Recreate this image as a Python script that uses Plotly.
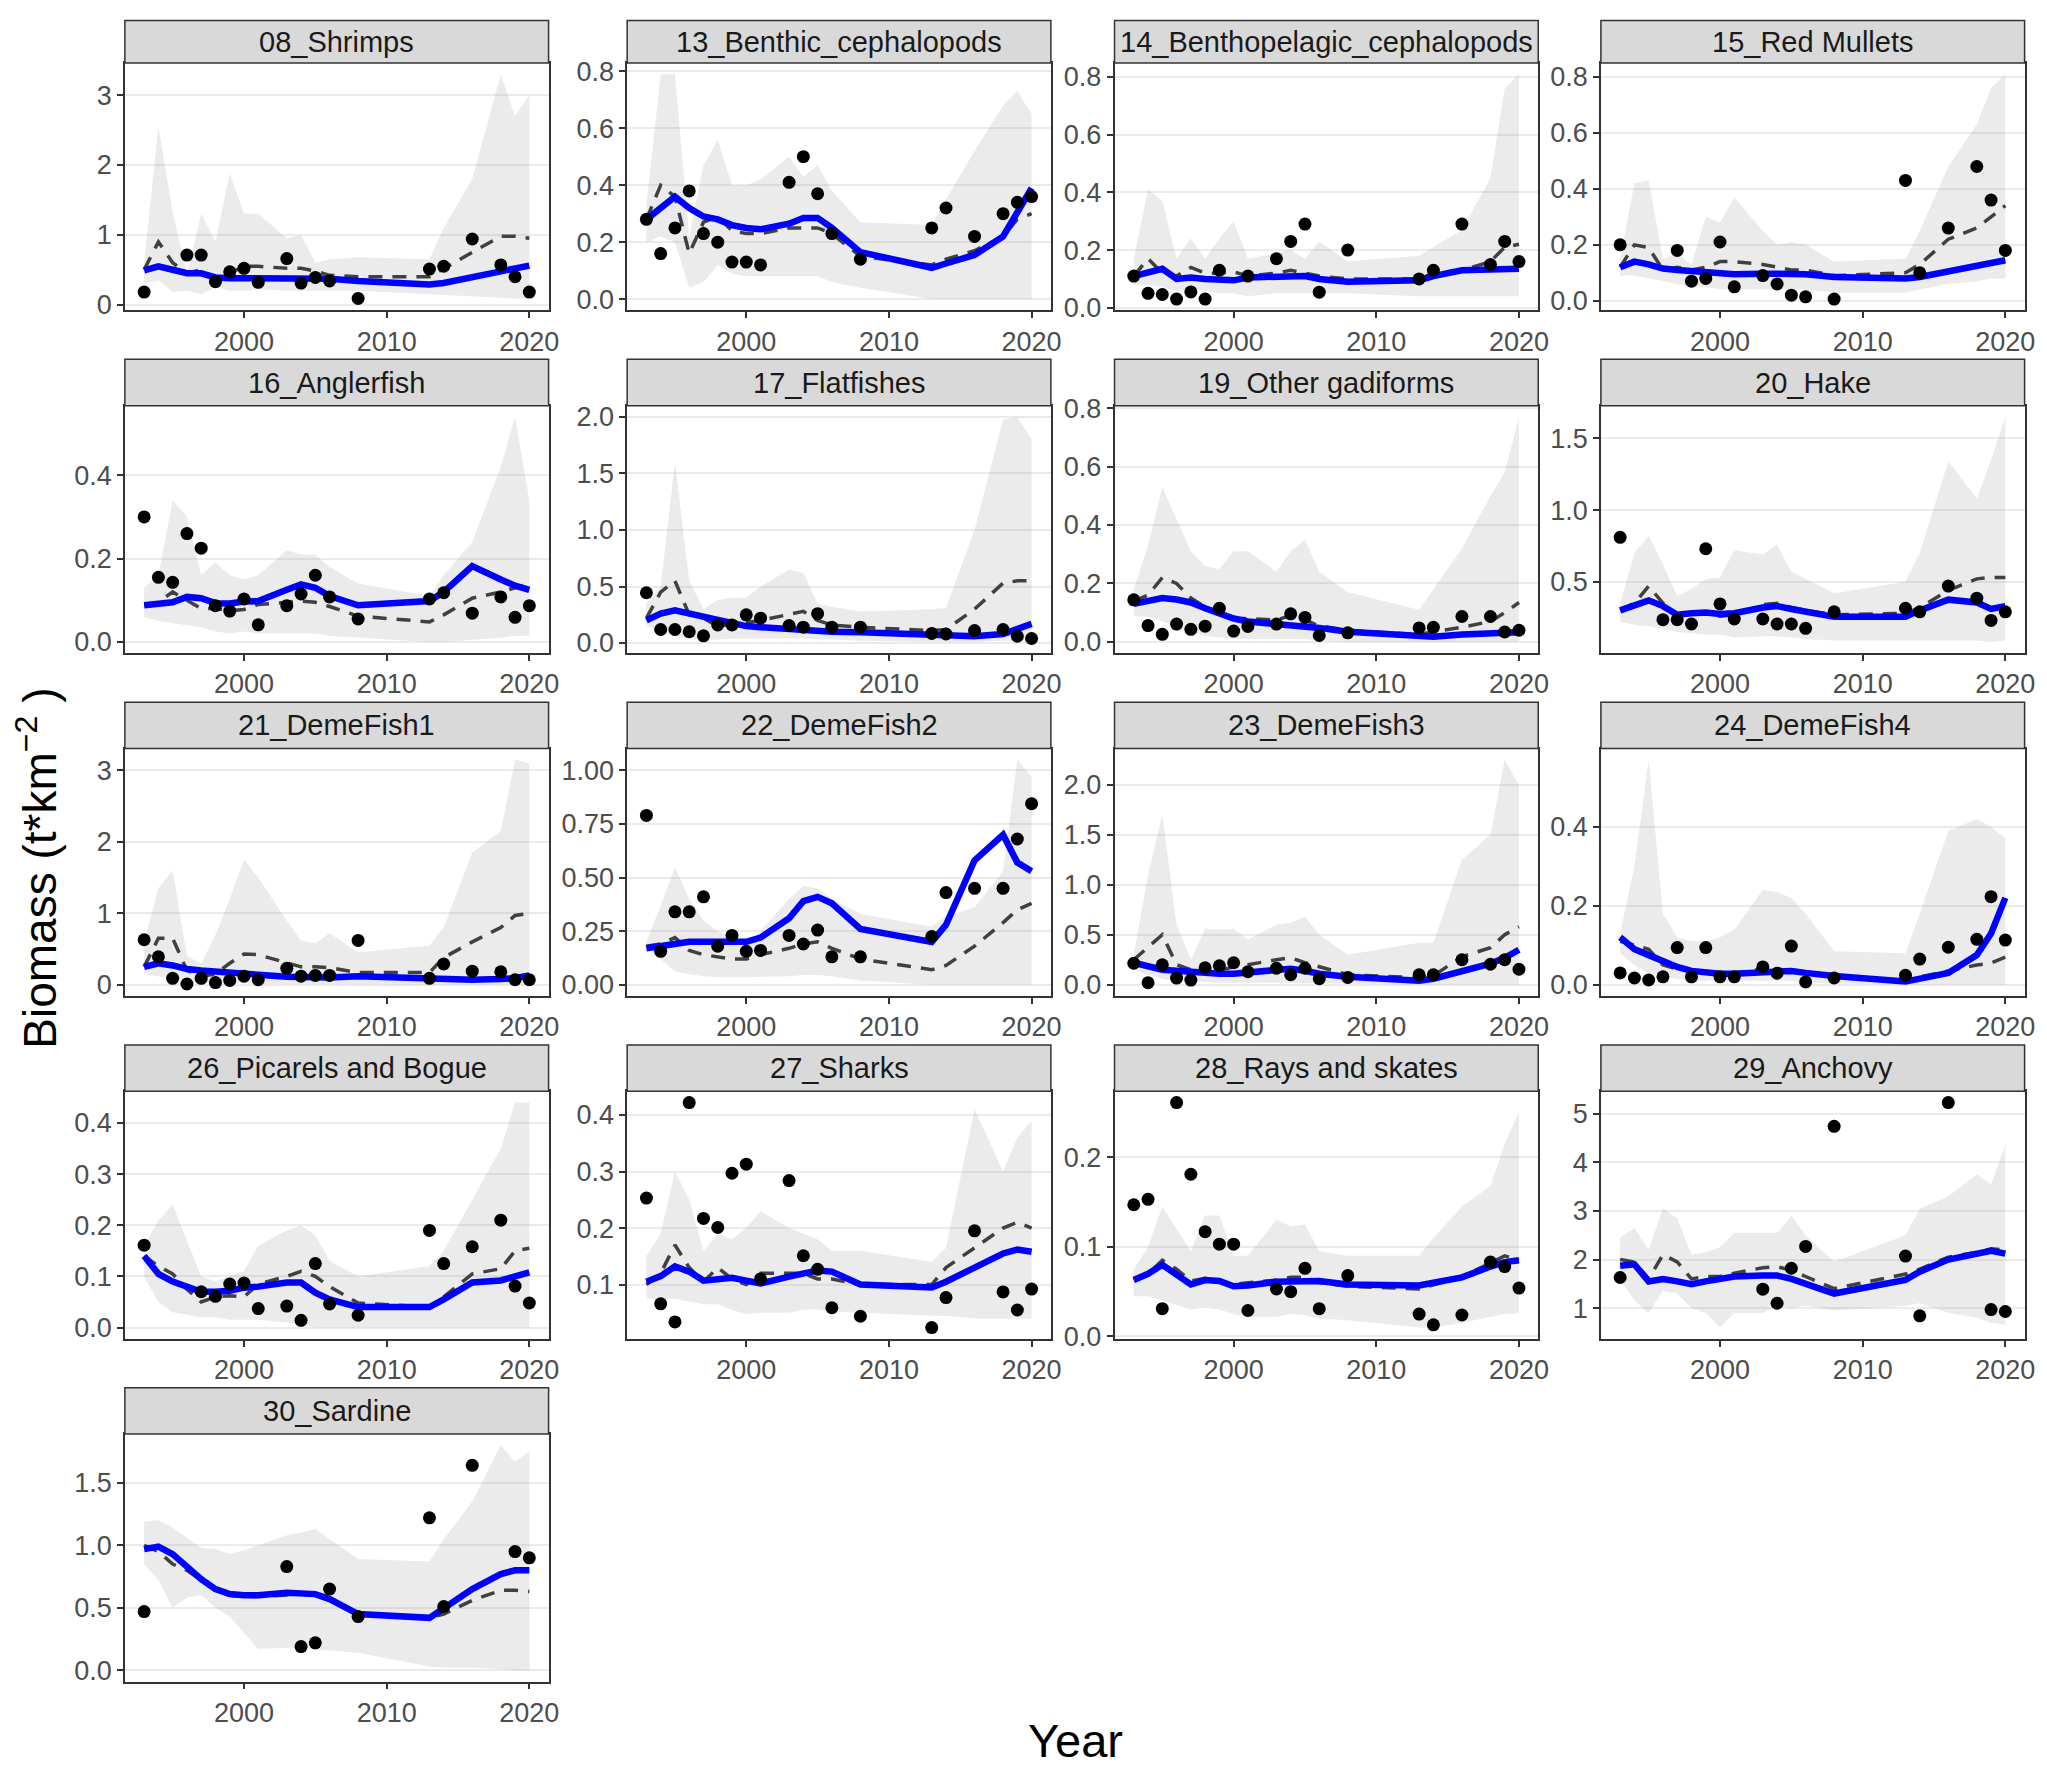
import plotly.graph_objects as go

# survey years (lines and ribbon are linear between these)
years = [1993, 1994, 1995, 1996, 1997, 1998, 1999, 2000, 2001, 2003,
         2004, 2005, 2006, 2008, 2013, 2014, 2016, 2018, 2019, 2020]

# 08_Shrimps
shrimps_obs = [0.18, None, None, 0.71, 0.71, 0.33, 0.47, 0.52, 0.32, 0.66, 0.31, 0.39, 0.34, 0.09, 0.51, 0.55, 0.94, 0.57, 0.40, 0.18]
shrimps_fit = [0.49, 0.55, 0.50, 0.45, 0.45, 0.39, 0.38, 0.38, 0.38, 0.38, 0.38, 0.38, 0.37, 0.34, 0.29, 0.31, 0.40, 0.49, 0.52, 0.56]
shrimps_dash = [0.50, 0.90, 0.60, 0.45, 0.50, 0.35, 0.45, 0.55, 0.55, 0.52, 0.52, 0.48, 0.42, 0.40, 0.40, 0.52, 0.75, 0.98, 0.98, 0.95]
shrimps_lo = [0.30, 0.35, 0.18, 0.20, 0.15, 0.25, 0.20, 0.20, 0.22, 0.20, 0.20, 0.20, 0.20, 0.20, 0.15, 0.15, 0.12, 0.10, 0.08, 0.10]
shrimps_hi = [0.60, 2.55, 1.32, 0.45, 1.30, 0.90, 1.88, 1.30, 1.30, 0.95, 1.00, 0.60, 0.65, 0.68, 0.65, 1.10, 1.80, 3.30, 2.70, 3.00]

# 13_Benthic_cephalopods
bceph_obs = [0.28, 0.16, 0.25, 0.38, 0.23, 0.20, 0.13, 0.13, 0.12, 0.41, 0.50, 0.37, 0.23, 0.14, 0.25, 0.32, 0.22, 0.30, 0.34, 0.36]
bceph_fit = [0.28, 0.32, 0.36, 0.32, 0.29, 0.28, 0.26, 0.25, 0.245, 0.265, 0.285, 0.285, 0.25, 0.165, 0.11, 0.125, 0.155, 0.22, 0.31, 0.39]
bceph_dash = [0.28, 0.40, 0.36, 0.16, 0.27, 0.29, 0.24, 0.23, 0.23, 0.25, 0.25, 0.25, 0.23, 0.15, 0.12, 0.14, 0.17, 0.22, 0.28, 0.30]
bceph_lo = [0.20, 0.22, 0.20, 0.04, 0.06, 0.12, 0.09, 0.08, 0.08, 0.08, 0.08, 0.08, 0.06, 0.04, 0.00, 0.00, 0.00, 0.00, 0.00, 0.00]
bceph_hi = [0.33, 0.79, 0.79, 0.22, 0.47, 0.56, 0.40, 0.40, 0.42, 0.50, 0.43, 0.47, 0.38, 0.27, 0.26, 0.35, 0.52, 0.68, 0.73, 0.65]

# 14_Benthopelagic_cephalopods
bpceph_obs = [0.11, 0.05, 0.046, 0.03, 0.055, 0.03, 0.13, None, 0.11, 0.17, 0.23, 0.29, 0.054, 0.20, 0.10, 0.13, 0.29, 0.15, 0.23, 0.16]
bpceph_fit = [0.11, 0.12, 0.135, 0.10, 0.105, 0.10, 0.095, 0.095, 0.105, 0.11, 0.11, 0.11, 0.10, 0.09, 0.095, 0.11, 0.13, 0.13, 0.13, 0.135]
bpceph_dash = [0.11, 0.17, 0.12, 0.11, 0.14, 0.12, 0.12, 0.125, 0.11, 0.12, 0.13, 0.12, 0.11, 0.10, 0.10, 0.12, 0.13, 0.16, 0.21, 0.22]
bpceph_lo = [0.08, 0.08, 0.07, 0.06, 0.06, 0.06, 0.05, 0.05, 0.04, 0.05, 0.05, 0.05, 0.05, 0.05, 0.04, 0.04, 0.04, 0.04, 0.04, 0.04]
bpceph_hi = [0.17, 0.41, 0.37, 0.17, 0.24, 0.17, 0.24, 0.30, 0.17, 0.19, 0.20, 0.17, 0.23, 0.16, 0.18, 0.21, 0.27, 0.45, 0.76, 0.81]

# 15_Red Mullets
mullet_obs = [0.20, None, None, None, 0.18, 0.07, 0.08, 0.21, 0.05, 0.09, 0.06, 0.02, 0.014, 0.006, 0.43, 0.10, 0.26, 0.48, 0.36, 0.18]
mullet_fit = [0.12, 0.14, 0.13, 0.115, 0.11, 0.105, 0.10, 0.095, 0.095, 0.097, 0.097, 0.095, 0.095, 0.085, 0.08, 0.085, 0.105, 0.125, 0.135, 0.145]
mullet_dash = [0.12, 0.20, 0.19, 0.11, 0.12, 0.11, 0.12, 0.14, 0.14, 0.13, 0.12, 0.11, 0.11, 0.09, 0.10, 0.13, 0.22, 0.26, 0.30, 0.34]
mullet_lo = [0.09, 0.09, 0.08, 0.07, 0.06, 0.05, 0.05, 0.04, 0.04, 0.04, 0.04, 0.04, 0.04, 0.03, 0.03, 0.04, 0.06, 0.07, 0.08, 0.08]
mullet_hi = [0.15, 0.42, 0.43, 0.15, 0.17, 0.13, 0.30, 0.28, 0.37, 0.25, 0.20, 0.21, 0.20, 0.14, 0.15, 0.25, 0.48, 0.63, 0.76, 0.81]

# 16_Anglerfish
angler_obs = [0.30, 0.155, 0.143, 0.26, 0.225, 0.087, 0.074, 0.103, 0.041, 0.087, 0.115, 0.16, 0.108, 0.055, 0.103, 0.118, 0.069, 0.108, 0.059, 0.087]
angler_fit = [0.088, 0.09, 0.095, 0.108, 0.105, 0.093, 0.092, 0.097, 0.098, 0.125, 0.138, 0.13, 0.11, 0.088, 0.098, 0.12, 0.182, 0.15, 0.135, 0.125]
angler_dash = [0.09, 0.095, 0.12, 0.10, 0.08, 0.08, 0.075, 0.078, 0.09, 0.095, 0.098, 0.095, 0.085, 0.062, 0.048, 0.065, 0.105, 0.12, 0.13, 0.14]
angler_lo = [0.06, 0.05, 0.045, 0.04, 0.035, 0.025, 0.02, 0.025, 0.02, 0.02, 0.02, 0.02, 0.015, 0.01, 0.0, 0.0, 0.005, 0.01, 0.015, 0.015]
angler_hi = [0.13, 0.16, 0.34, 0.30, 0.16, 0.19, 0.16, 0.15, 0.16, 0.22, 0.21, 0.21, 0.18, 0.14, 0.11, 0.16, 0.24, 0.42, 0.54, 0.34]

# 17_Flatfishes
flat_obs = [0.445, 0.12, 0.12, 0.10, 0.064, 0.16, 0.16, 0.25, 0.22, 0.155, 0.14, 0.26, 0.14, 0.14, 0.085, 0.08, 0.11, 0.12, 0.06, 0.04]
flat_fit = [0.20, 0.26, 0.29, 0.26, 0.23, 0.20, 0.17, 0.15, 0.14, 0.12, 0.11, 0.105, 0.10, 0.095, 0.07, 0.06, 0.06, 0.08, 0.12, 0.17]
flat_dash = [0.22, 0.45, 0.55, 0.25, 0.22, 0.15, 0.17, 0.18, 0.20, 0.25, 0.28, 0.20, 0.16, 0.14, 0.11, 0.12, 0.30, 0.53, 0.55, 0.55]
flat_lo = [0.15, 0.10, 0.06, 0.04, 0.03, 0.03, 0.04, 0.04, 0.04, 0.04, 0.04, 0.04, 0.03, 0.02, 0.01, 0.01, 0.01, 0.02, 0.02, 0.02]
flat_hi = [0.35, 0.50, 1.60, 0.55, 0.30, 0.38, 0.40, 0.40, 0.50, 0.65, 0.62, 0.35, 0.32, 0.28, 0.30, 0.31, 1.00, 1.98, 2.00, 1.80]

# 19_Other gadiforms
gadi_obs = [0.144, 0.056, 0.026, 0.061, 0.043, 0.054, 0.115, 0.037, 0.053, 0.061, 0.096, 0.084, 0.022, 0.031, 0.048, 0.05, 0.087, 0.087, 0.034, 0.04]
gadi_fit = [0.13, 0.14, 0.15, 0.145, 0.135, 0.115, 0.095, 0.08, 0.07, 0.062, 0.058, 0.055, 0.048, 0.035, 0.018, 0.018, 0.025, 0.03, 0.032, 0.033]
gadi_dash = [0.14, 0.16, 0.22, 0.20, 0.15, 0.12, 0.10, 0.08, 0.08, 0.075, 0.09, 0.075, 0.055, 0.04, 0.025, 0.035, 0.05, 0.07, 0.10, 0.135]
gadi_lo = [0.09, 0.085, 0.07, 0.05, 0.035, 0.02, 0.015, 0.01, 0.01, 0.01, 0.01, 0.01, 0.005, 0.0, 0.0, 0.0, 0.0, 0.0, 0.0, 0.0]
gadi_hi = [0.18, 0.33, 0.53, 0.42, 0.31, 0.26, 0.25, 0.31, 0.31, 0.24, 0.31, 0.35, 0.24, 0.17, 0.11, 0.18, 0.32, 0.50, 0.58, 0.77]

# 20_Hake
hake_obs = [0.81, None, None, 0.235, 0.235, 0.205, 0.73, 0.345, 0.24, 0.24, 0.205, 0.205, 0.175, 0.29, 0.315, 0.29, 0.47, 0.385, 0.23, 0.29]
hake_fit = [0.30, 0.33, 0.37, 0.33, 0.27, 0.28, 0.285, 0.275, 0.28, 0.32, 0.33, 0.31, 0.29, 0.255, 0.255, 0.30, 0.375, 0.355, 0.31, 0.33]
hake_dash = [0.30, 0.35, 0.47, 0.35, 0.27, 0.28, 0.28, 0.26, 0.27, 0.34, 0.35, 0.32, 0.30, 0.27, 0.28, 0.32, 0.44, 0.52, 0.53, 0.53]
hake_lo = [0.22, 0.20, 0.19, 0.17, 0.15, 0.14, 0.13, 0.13, 0.11, 0.12, 0.12, 0.11, 0.10, 0.09, 0.09, 0.09, 0.09, 0.09, 0.08, 0.09]
hake_hi = [0.35, 0.70, 0.82, 0.62, 0.40, 0.45, 0.52, 0.53, 0.72, 0.69, 0.76, 0.57, 0.52, 0.42, 0.50, 0.70, 1.34, 1.08, 1.35, 1.65]

# 21_DemeFish1
deme1_obs = [0.63, 0.39, 0.09, 0.01, 0.09, 0.03, 0.06, 0.12, 0.07, 0.23, 0.12, 0.13, 0.13, 0.62, 0.09, 0.29, 0.19, 0.18, 0.07, 0.07]
deme1_fit = [0.25, 0.30, 0.27, 0.22, 0.20, 0.18, 0.16, 0.15, 0.14, 0.11, 0.10, 0.10, 0.10, 0.12, 0.09, 0.07, 0.07, 0.08, 0.09, 0.13]
deme1_dash = [0.25, 0.65, 0.65, 0.20, 0.12, 0.15, 0.30, 0.43, 0.42, 0.30, 0.25, 0.25, 0.24, 0.17, 0.17, 0.38, 0.60, 0.80, 0.97, 1.00]
deme1_lo = [0.15, 0.12, 0.08, 0.05, 0.03, 0.02, 0.02, 0.02, 0.01, 0.01, 0.01, 0.01, 0.01, 0.0, 0.0, 0.0, 0.0, 0.0, 0.0, 0.0]
deme1_hi = [0.60, 1.35, 1.60, 0.40, 0.30, 0.70, 1.20, 1.75, 1.50, 0.90, 0.62, 0.58, 0.72, 0.45, 0.55, 0.80, 1.85, 2.15, 3.15, 3.10]

# 22_DemeFish2
deme2_obs = [0.79, 0.156, 0.34, 0.34, 0.41, 0.18, 0.23, 0.156, 0.16, 0.23, 0.19, 0.255, 0.13, 0.13, 0.225, 0.43, 0.45, 0.45, 0.68, 0.845]
deme2_fit = [0.17, 0.18, 0.19, 0.20, 0.20, 0.20, 0.195, 0.20, 0.22, 0.31, 0.39, 0.41, 0.38, 0.26, 0.20, 0.28, 0.58, 0.70, 0.57, 0.53]
deme2_dash = [0.18, 0.19, 0.22, 0.16, 0.14, 0.13, 0.12, 0.12, 0.14, 0.17, 0.19, 0.20, 0.17, 0.12, 0.07, 0.09, 0.18, 0.29, 0.35, 0.38]
deme2_lo = [0.17, 0.12, 0.06, 0.05, 0.04, 0.035, 0.035, 0.035, 0.035, 0.04, 0.045, 0.045, 0.04, 0.02, 0.0, 0.0, 0.0, 0.0, 0.0, 0.0]
deme2_hi = [0.20, 0.37, 0.55, 0.40, 0.30, 0.25, 0.22, 0.19, 0.25, 0.40, 0.46, 0.45, 0.40, 0.33, 0.27, 0.32, 0.36, 0.53, 1.05, 0.97]

# 23_DemeFish3
deme3_obs = [0.215, 0.02, 0.20, 0.066, 0.046, 0.17, 0.19, 0.22, 0.13, 0.165, 0.10, 0.165, 0.06, 0.073, 0.10, 0.10, 0.25, 0.205, 0.25, 0.155]
deme3_fit = [0.22, 0.18, 0.15, 0.14, 0.125, 0.11, 0.11, 0.11, 0.12, 0.15, 0.16, 0.14, 0.11, 0.08, 0.04, 0.06, 0.13, 0.21, 0.27, 0.35]
deme3_dash = [0.25, 0.38, 0.50, 0.20, 0.15, 0.12, 0.14, 0.18, 0.20, 0.25, 0.27, 0.22, 0.18, 0.10, 0.07, 0.09, 0.28, 0.37, 0.50, 0.58]
deme3_lo = [0.15, 0.10, 0.06, 0.04, 0.03, 0.03, 0.02, 0.02, 0.02, 0.02, 0.02, 0.02, 0.015, 0.01, 0.0, 0.0, 0.0, 0.0, 0.0, 0.0]
deme3_hi = [0.30, 1.10, 1.70, 0.60, 0.25, 0.56, 0.55, 0.56, 0.45, 0.60, 0.62, 0.68, 0.50, 0.30, 0.42, 0.42, 1.25, 1.50, 2.25, 2.00]

# 24_DemeFish4
deme4_obs = [0.03, 0.017, 0.012, 0.02, 0.094, 0.02, 0.094, 0.02, 0.02, 0.045, 0.029, 0.098, 0.007, 0.017, 0.024, 0.065, 0.095, 0.115, 0.223, 0.113]
deme4_fit = [0.12, 0.09, 0.075, 0.06, 0.045, 0.035, 0.03, 0.028, 0.028, 0.03, 0.035, 0.035, 0.03, 0.022, 0.008, 0.015, 0.03, 0.075, 0.13, 0.22]
deme4_dash = [0.11, 0.10, 0.09, 0.05, 0.04, 0.035, 0.03, 0.03, 0.03, 0.04, 0.04, 0.035, 0.03, 0.02, 0.012, 0.02, 0.035, 0.05, 0.055, 0.07]
deme4_lo = [0.08, 0.05, 0.03, 0.02, 0.015, 0.01, 0.01, 0.01, 0.01, 0.01, 0.01, 0.01, 0.005, 0.003, 0.0, 0.0, 0.0, 0.0, 0.0, 0.0]
deme4_hi = [0.13, 0.30, 0.57, 0.18, 0.12, 0.11, 0.11, 0.12, 0.14, 0.24, 0.235, 0.22, 0.18, 0.085, 0.08, 0.18, 0.39, 0.42, 0.40, 0.37]

# 26_Picarels and Bogue
picarel_obs = [0.161, None, None, None, 0.07, 0.061, 0.085, 0.087, 0.037, 0.042, 0.014, 0.125, 0.046, 0.024, 0.19, 0.125, 0.158, 0.21, 0.081, 0.048]
picarel_fit = [0.14, 0.105, 0.09, 0.08, 0.07, 0.07, 0.072, 0.078, 0.08, 0.088, 0.088, 0.068, 0.055, 0.04, 0.04, 0.055, 0.088, 0.092, 0.10, 0.108]
picarel_dash = [0.14, 0.12, 0.105, 0.075, 0.05, 0.06, 0.062, 0.06, 0.085, 0.10, 0.11, 0.10, 0.08, 0.048, 0.04, 0.06, 0.105, 0.115, 0.15, 0.155]
picarel_lo = [0.10, 0.05, 0.03, 0.025, 0.02, 0.02, 0.015, 0.015, 0.015, 0.01, 0.005, 0.0, 0.0, 0.0, 0.0, 0.0, 0.0, 0.0, 0.0, 0.0]
picarel_hi = [0.16, 0.21, 0.24, 0.17, 0.10, 0.09, 0.10, 0.11, 0.16, 0.19, 0.20, 0.18, 0.13, 0.10, 0.12, 0.15, 0.25, 0.35, 0.44, 0.44]

# 27_Sharks
shark_obs = [0.253, 0.066, 0.034, 0.422, 0.217, 0.201, 0.297, 0.313, 0.11, 0.284, 0.151, 0.127, 0.059, 0.044, 0.024, 0.077, 0.195, 0.087, 0.055, 0.092]
shark_fit = [0.105, 0.115, 0.132, 0.123, 0.107, 0.11, 0.112, 0.107, 0.102, 0.114, 0.12, 0.125, 0.123, 0.10, 0.095, 0.105, 0.13, 0.155, 0.162, 0.158]
shark_dash = [0.10, 0.12, 0.17, 0.13, 0.105, 0.13, 0.11, 0.10, 0.12, 0.12, 0.12, 0.11, 0.11, 0.10, 0.10, 0.13, 0.165, 0.20, 0.21, 0.20]
shark_lo = [0.075, 0.075, 0.075, 0.07, 0.065, 0.065, 0.055, 0.048, 0.05, 0.05, 0.056, 0.056, 0.052, 0.05, 0.045, 0.045, 0.04, 0.04, 0.04, 0.04]
shark_hi = [0.15, 0.19, 0.30, 0.25, 0.16, 0.19, 0.18, 0.20, 0.23, 0.20, 0.19, 0.18, 0.16, 0.16, 0.14, 0.165, 0.41, 0.30, 0.36, 0.39]

# 28_Rays and skates
ray_obs = [0.147, 0.153, 0.031, 0.261, 0.181, 0.117, 0.103, 0.103, 0.029, 0.053, 0.05, 0.076, 0.031, 0.068, 0.025, 0.013, 0.024, 0.083, 0.078, 0.054]
ray_fit = [0.063, 0.07, 0.08, 0.07, 0.058, 0.063, 0.062, 0.056, 0.057, 0.061, 0.061, 0.062, 0.062, 0.058, 0.057, 0.06, 0.066, 0.078, 0.083, 0.085]
ray_dash = [0.063, 0.07, 0.085, 0.075, 0.062, 0.065, 0.062, 0.058, 0.06, 0.063, 0.066, 0.066, 0.06, 0.056, 0.053, 0.058, 0.067, 0.082, 0.09, 0.085]
ray_lo = [0.045, 0.045, 0.04, 0.035, 0.03, 0.032, 0.03, 0.025, 0.022, 0.022, 0.025, 0.024, 0.02, 0.018, 0.01, 0.01, 0.015, 0.022, 0.025, 0.026]
ray_hi = [0.075, 0.10, 0.145, 0.12, 0.095, 0.135, 0.135, 0.09, 0.09, 0.13, 0.123, 0.125, 0.095, 0.09, 0.09, 0.11, 0.145, 0.168, 0.215, 0.25]

# 29_Anchovy
anchovy_obs = [1.63, None, None, None, None, None, None, None, None, 1.39, 1.10, 1.82, 2.27, 4.74, 2.07, 0.84, 5.23, None, 0.97, 0.93]
anchovy_fit = [1.87, 1.90, 1.55, 1.60, 1.55, 1.49, 1.55, 1.60, 1.65, 1.67, 1.67, 1.60, 1.50, 1.30, 1.58, 1.75, 2.00, 2.10, 2.18, 2.12]
anchovy_dash = [2.00, 1.95, 1.60, 2.10, 1.95, 1.60, 1.65, 1.65, 1.72, 1.83, 1.85, 1.78, 1.65, 1.40, 1.70, 1.80, 2.05, 2.15, 2.22, 2.20]
anchovy_lo = [1.60, 1.15, 0.90, 1.35, 1.30, 1.00, 0.90, 0.60, 0.90, 0.90, 1.05, 1.00, 1.05, 0.95, 1.05, 1.10, 0.90, 0.80, 0.70, 0.65]
anchovy_hi = [2.45, 2.65, 2.20, 3.05, 2.85, 2.10, 2.15, 2.25, 2.55, 2.55, 2.55, 2.90, 2.50, 1.95, 2.50, 3.05, 3.30, 3.75, 3.55, 4.35]

# 30_Sardine
sardine_obs = [0.47, None, None, None, None, None, None, None, None, 0.83, 0.19, 0.22, 0.65, 0.43, 1.22, 0.51, 1.64, None, 0.95, 0.90]
sardine_fit = [0.97, 0.99, 0.93, 0.83, 0.73, 0.65, 0.61, 0.60, 0.60, 0.62, 0.62, 0.61, 0.57, 0.45, 0.42, 0.50, 0.65, 0.77, 0.80, 0.80]
sardine_dash = [1.00, 0.95, 0.85, 0.80, 0.72, 0.64, 0.60, 0.59, 0.59, 0.60, 0.61, 0.60, 0.56, 0.45, 0.42, 0.45, 0.56, 0.64, 0.64, 0.63]
sardine_lo = [0.85, 0.72, 0.50, 0.58, 0.60, 0.50, 0.43, 0.30, 0.17, 0.18, 0.18, 0.16, 0.16, 0.14, 0.03, 0.02, 0.02, 0.01, 0.0, 0.0]
sardine_hi = [1.19, 1.20, 1.14, 1.06, 0.98, 0.97, 0.93, 0.96, 1.00, 1.08, 1.10, 1.13, 1.05, 0.89, 0.87, 1.05, 1.35, 1.80, 1.67, 1.75]

# y tick labels per panel
ticks_0_3 = ["0", "1", "2", "3"]
ticks_0_08 = ["0.0", "0.2", "0.4", "0.6", "0.8"]
ticks_0_04 = ["0.0", "0.2", "0.4"]
ticks_0_2 = ["0.0", "0.5", "1.0", "1.5", "2.0"]
ticks_hake = ["0.5", "1.0", "1.5"]
ticks_deme2 = ["0.00", "0.25", "0.50", "0.75", "1.00"]
ticks_picarel = ["0.0", "0.1", "0.2", "0.3", "0.4"]
ticks_shark = ["0.1", "0.2", "0.3", "0.4"]
ticks_ray = ["0.0", "0.1", "0.2"]
ticks_anchovy = ["1", "2", "3", "4", "5"]
ticks_sardine = ["0.0", "0.5", "1.0", "1.5"]

panels = [
    ("08_Shrimps", shrimps_obs, shrimps_fit, shrimps_dash, shrimps_lo, shrimps_hi, ticks_0_3),
    ("13_Benthic_cephalopods", bceph_obs, bceph_fit, bceph_dash, bceph_lo, bceph_hi, ticks_0_08),
    ("14_Benthopelagic_cephalopods", bpceph_obs, bpceph_fit, bpceph_dash, bpceph_lo, bpceph_hi, ticks_0_08),
    ("15_Red Mullets", mullet_obs, mullet_fit, mullet_dash, mullet_lo, mullet_hi, ticks_0_08),
    ("16_Anglerfish", angler_obs, angler_fit, angler_dash, angler_lo, angler_hi, ticks_0_04),
    ("17_Flatfishes", flat_obs, flat_fit, flat_dash, flat_lo, flat_hi, ticks_0_2),
    ("19_Other gadiforms", gadi_obs, gadi_fit, gadi_dash, gadi_lo, gadi_hi, ticks_0_08),
    ("20_Hake", hake_obs, hake_fit, hake_dash, hake_lo, hake_hi, ticks_hake),
    ("21_DemeFish1", deme1_obs, deme1_fit, deme1_dash, deme1_lo, deme1_hi, ticks_0_3),
    ("22_DemeFish2", deme2_obs, deme2_fit, deme2_dash, deme2_lo, deme2_hi, ticks_deme2),
    ("23_DemeFish3", deme3_obs, deme3_fit, deme3_dash, deme3_lo, deme3_hi, ticks_0_2),
    ("24_DemeFish4", deme4_obs, deme4_fit, deme4_dash, deme4_lo, deme4_hi, ticks_0_04),
    ("26_Picarels and Bogue", picarel_obs, picarel_fit, picarel_dash, picarel_lo, picarel_hi, ticks_picarel),
    ("27_Sharks", shark_obs, shark_fit, shark_dash, shark_lo, shark_hi, ticks_shark),
    ("28_Rays and skates", ray_obs, ray_fit, ray_dash, ray_lo, ray_hi, ticks_ray),
    ("29_Anchovy", anchovy_obs, anchovy_fit, anchovy_dash, anchovy_lo, anchovy_hi, ticks_anchovy),
    ("30_Sardine", sardine_obs, sardine_fit, sardine_dash, sardine_lo, sardine_hi, ticks_sardine),
]

W, H = 2047, 1777
# the page body adds ~7.5px offset, so positions are shifted left/up
col_x = [(117.5, 543.5), (622.5, 1048.5), (1112.5, 1538.5), (1601.5, 2027.5)]
row_pitch = 347.7
FONT = "Liberation Sans, Arial, sans-serif"

fig = go.Figure()
shapes = []
annotations = []
layout = dict(width=W, height=H, margin=dict(l=0, r=0, t=0, b=0),
              paper_bgcolor="white", plot_bgcolor="white", showlegend=False,
              font=dict(family=FONT))

for i, (name, obs, fit, dash, lo, hi, ticks) in enumerate(panels):
    r, c = divmod(i, 4)
    n = "" if i == 0 else str(i + 1)
    xa, ya = "x" + n, "y" + n
    x0, x1 = col_x[c]
    top = max(0.5, -3.5 + r * row_pitch)
    strip_bot = 43.5 + r * row_pitch
    bot = 294.5 + r * row_pitch

    # ribbon
    fig.add_trace(go.Scatter(x=years + years[::-1], y=hi + lo[::-1], fill="toself",
                             fillcolor="rgba(153,153,153,0.2)", line=dict(width=0),
                             mode="lines", hoverinfo="skip", xaxis=xa, yaxis=ya))
    fig.add_trace(go.Scatter(x=years, y=dash, mode="lines",
                             line=dict(color="#404040", width=3.5, dash="14px,10px"),
                             xaxis=xa, yaxis=ya))
    fig.add_trace(go.Scatter(x=years, y=fit, mode="lines",
                             line=dict(color="#0000FF", width=6.5),
                             xaxis=xa, yaxis=ya))
    fig.add_trace(go.Scatter(x=years, y=obs, mode="markers",
                             marker=dict(color="black", size=13),
                             xaxis=xa, yaxis=ya))

    vals = [v for s in (obs, fit, dash, lo, hi) for v in s if v is not None]
    vmin, vmax = min(vals), max(vals)
    pad = 0.05 * (vmax - vmin)

    layout["xaxis" + n] = dict(
        domain=[x0 / W, x1 / W], range=[1991.65, 2021.35], anchor=ya,
        tickvals=[2000, 2010, 2020], ticks="outside", ticklen=6, tickwidth=1.5,
        tickcolor="#333333", showgrid=False, zeroline=False,
        showline=True, mirror=True, linecolor="#333333", linewidth=1.5,
        tickfont=dict(size=27, color="#4D4D4D"))
    layout["yaxis" + n] = dict(
        domain=[1 - bot / H, 1 - strip_bot / H], range=[vmin - pad, vmax + pad], anchor=xa,
        tickvals=[float(t) for t in ticks], ticktext=ticks,
        ticks="outside", ticklen=6, tickwidth=1.5, tickcolor="#333333",
        showgrid=True, gridcolor="#EBEBEB", gridwidth=1.5, zeroline=False,
        showline=True, mirror=True, linecolor="#333333", linewidth=1.5,
        tickfont=dict(size=27, color="#4D4D4D"))

    # facet strip
    shapes.append(dict(type="rect", xref="paper", yref="paper",
                       x0=x0 / W, x1=x1 / W, y0=1 - strip_bot / H, y1=1 - top / H,
                       fillcolor="#D9D9D9", line=dict(color="#333333", width=1.5)))
    annotations.append(dict(text=name, xref="paper", yref="paper",
                            x=(x0 + x1) / 2 / W, y=1 - (top + strip_bot) / 2 / H,
                            showarrow=False, xanchor="center", yanchor="middle",
                            font=dict(size=29, color="#1A1A1A")))

annotations.append(dict(text="Year", xref="paper", yref="paper", x=1073.5 / W, y=1 - 1745.5 / H,
                        showarrow=False, xanchor="center", yanchor="middle",
                        font=dict(size=47, color="black")))
annotations.append(dict(text="Biomass (t*km<sup>\u22122</sup> )", xref="paper", yref="paper",
                        x=29.5 / W, y=1 - 860.5 / H, textangle=-90,
                        showarrow=False, xanchor="center", yanchor="middle",
                        font=dict(size=46, color="black")))

layout["shapes"] = shapes
layout["annotations"] = annotations
fig.update_layout(**layout)

fig.write_html("out.html")
